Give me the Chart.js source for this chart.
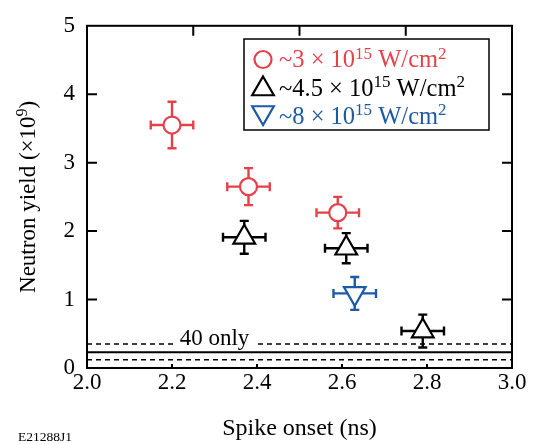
<!DOCTYPE html>
<html>
<head>
<meta charset="utf-8">
<script src="https://cdn.jsdelivr.net/npm/chart.js@4.4.0/dist/chart.umd.min.js"></script>
<style>
  html, body { margin: 0; padding: 0; background: #fff; }
  #wrap { width: 535px; height: 444px; }
</style>
</head>
<body>
<div id="wrap"><canvas id="yieldChart" width="535" height="444"></canvas></div>
<script>
// --- data ---
const onsetRed = [2.20, 2.38, 2.59];      // ~3e15 W/cm2
const yieldRed = [3.55, 2.65, 2.27];
const yErrRed = [0.34, 0.27, 0.23];

const onsetBlack = [2.37, 2.61, 2.79];    // ~4.5e15 W/cm2
const yieldBlack = [1.91, 1.75, 0.54];
const yErrBlack = [0.24, 0.22, 0.24];

const onsetBlue = [2.63];                 // ~8e15 W/cm2
const yieldBlue = [1.09];
const yErrBlue = [0.24];

const xErr = 0.05;                        // onset uncertainty, same for all

const onlyLevel = 0.23;                   // "40 only" yield
const onlyBand = [0.12, 0.35];            // dashed band around it

const intensities = ['~3', '~4.5', '~8'];
const xRange = [2.0, 3.0];
const yRange = [0, 5];

const FONT = '"Liberation Serif", "Times New Roman", serif';
const RED = '#e6414a', BLACK = '#000000', BLUE = '#1b5aa6';

function toPts(xs, ys) { return xs.map((x, i) => ({ x: x, y: ys[i] })); }
function flat(y) { return [{ x: xRange[0], y: y }, { x: xRange[1], y: y }]; }

// small marker painter (used for the legend)
function drawMarker(ctx, style, x, y, r, rot, color) {
    ctx.save();
    ctx.strokeStyle = color;
    ctx.fillStyle = '#fff';
    ctx.lineWidth = 2.2;
    ctx.beginPath();
    if (style === 'circle') {
        ctx.arc(x, y, r, 0, Math.PI * 2);
    } else {
        let a = rot * Math.PI / 180;
        for (let k = 0; k < 3; k++) {
            const px = x + Math.sin(a) * r, py = y - Math.cos(a) * r;
            k === 0 ? ctx.moveTo(px, py) : ctx.lineTo(px, py);
            a += Math.PI * 2 / 3;
        }
        ctx.closePath();
    }
    ctx.fill();
    ctx.stroke();
    ctx.restore();
}

const decorations = {
    id: 'decorations',
    beforeDatasetsDraw(chart) {
        // error bars with caps
        const ctx = chart.ctx, xs = chart.scales.x, ys = chart.scales.y;
        chart.data.datasets.forEach(ds => {
            if (!ds.errY) return;
            ctx.save();
            ctx.strokeStyle = ds.borderColor;
            ctx.lineWidth = 2.4;
            ds.data.forEach((p, i) => {
                const cx = xs.getPixelForValue(p.x), cy = ys.getPixelForValue(p.y);
                const x1 = xs.getPixelForValue(p.x - xErr), x2 = xs.getPixelForValue(p.x + xErr);
                const y1 = ys.getPixelForValue(p.y + ds.errY[i]), y2 = ys.getPixelForValue(p.y - ds.errY[i]);
                const c = 4.5;
                ctx.beginPath();
                ctx.moveTo(x1, cy); ctx.lineTo(x2, cy);
                ctx.moveTo(x1, cy - c); ctx.lineTo(x1, cy + c);
                ctx.moveTo(x2, cy - c); ctx.lineTo(x2, cy + c);
                ctx.moveTo(cx, y1); ctx.lineTo(cx, y2);
                ctx.moveTo(cx - c, y1); ctx.lineTo(cx + c, y1);
                ctx.moveTo(cx - c, y2); ctx.lineTo(cx + c, y2);
                ctx.stroke();
            });
            ctx.restore();
        });
    },
    afterDatasetsDraw(chart) {
        const ctx = chart.ctx, a = chart.chartArea;
        const xs = chart.scales.x, ys = chart.scales.y, xt = chart.scales.x2, yr = chart.scales.y2;
        ctx.save();

        // "40 only" label sitting on the upper dashed line
        ctx.font = `23px ${FONT}`;
        const lbl = '40 only';
        const lx = xs.getPixelForValue(2.3), ly = ys.getPixelForValue(0.33);
        const lw = ctx.measureText(lbl).width;
        ctx.fillStyle = '#fff';
        ctx.fillRect(lx - lw / 2 - 5, ly - 16, lw + 10, 20);
        ctx.fillStyle = BLACK;
        ctx.textAlign = 'center';
        ctx.textBaseline = 'alphabetic';
        ctx.fillText(lbl, lx, ly);

        // frame and inward ticks
        ctx.strokeStyle = BLACK;
        ctx.lineWidth = 2;
        ctx.strokeRect(a.left, a.top, a.right - a.left, a.bottom - a.top);
        ctx.beginPath();
        ys.ticks.forEach(t => {
            if (t.value <= yRange[0] || t.value >= yRange[1]) return;
            const p = ys.getPixelForValue(t.value);
            ctx.moveTo(a.left, p); ctx.lineTo(a.left + 10, p);
        });
        yr.ticks.forEach(t => {
            if (t.value <= yRange[0] || t.value >= yRange[1]) return;
            const p = yr.getPixelForValue(t.value);
            ctx.moveTo(a.right, p); ctx.lineTo(a.right - 10, p);
        });
        xs.ticks.forEach(t => {
            if (t.value <= xRange[0] + 1e-6 || t.value >= xRange[1] - 1e-6) return;
            const p = xs.getPixelForValue(t.value);
            ctx.moveTo(p, a.bottom); ctx.lineTo(p, a.bottom - 4);
        });
        xt.ticks.forEach(t => {
            if (t.value <= xRange[0] + 1e-6 || t.value >= xRange[1] - 1e-6) return;
            const p = xt.getPixelForValue(t.value);
            ctx.moveTo(p, a.top); ctx.lineTo(p, a.top + 10);
        });
        ctx.stroke();

        // legend box
        ctx.fillStyle = '#fff';
        ctx.fillRect(244, 39, 245, 91);
        ctx.lineWidth = 1.5;
        ctx.strokeRect(244, 39, 245, 91);
        const rows = [
            { style: 'circle', r: 8.5, rot: 0, color: RED, cy: 59.5, base: 67 },
            { style: 'triangle', r: 12.5, rot: 0, color: BLACK, cy: 89, base: 95.5 },
            { style: 'triangle', r: 12.5, rot: 180, color: BLUE, cy: 112.5, base: 123.5 }
        ];
        ctx.textAlign = 'left';
        rows.forEach((row, i) => {
            drawMarker(ctx, row.style, 263, row.cy, row.r, row.rot, row.color);
            let x = 279;
            ctx.fillStyle = row.color;
            const parts = [[intensities[i] + ' × 10', false], ['15', true], [' W/cm', false], ['2', true]];
            parts.forEach(([s, sup]) => {
                ctx.font = sup ? `17px ${FONT}` : `24.5px ${FONT}`;
                ctx.fillText(s, x, sup ? row.base - 8.5 : row.base);
                x += ctx.measureText(s).width;
            });
        });

        // y-axis title with superscript
        ctx.fillStyle = BLACK;
        const t1 = 'Neutron yield (×10', t2 = '9', t3 = ')';
        ctx.font = `23px ${FONT}`;
        const w1 = ctx.measureText(t1).width, w3 = ctx.measureText(t3).width;
        ctx.font = `16px ${FONT}`;
        const w2 = ctx.measureText(t2).width;
        const total = w1 + w2 + w3;
        ctx.translate(35, (a.top + a.bottom) / 2);
        ctx.rotate(-Math.PI / 2);
        let tx = -total / 2;
        ctx.font = `23px ${FONT}`;
        ctx.fillText(t1, tx, 0); tx += w1;
        ctx.font = `16px ${FONT}`;
        ctx.fillText(t2, tx, -8); tx += w2;
        ctx.font = `23px ${FONT}`;
        ctx.fillText(t3, tx, 0);
        ctx.setTransform(1, 0, 0, 1, 0, 0);

        // figure code
        ctx.font = `13.5px ${FONT}`;
        ctx.fillText('E21288J1', 18, 441);
        ctx.restore();
    }
};

Chart.defaults.color = BLACK;
Chart.defaults.font.family = FONT;

const ctx = document.getElementById('yieldChart').getContext('2d');
const myChart = new Chart(ctx, {
    type: 'scatter',
    data: {
        datasets: [
            {
                type: 'line', data: flat(onlyLevel), borderColor: BLACK, borderWidth: 2.2,
                pointRadius: 0, fill: false
            },
            {
                type: 'line', data: flat(onlyBand[1]), borderColor: BLACK, borderWidth: 1.5,
                borderDash: [5, 4], pointRadius: 0, fill: false
            },
            {
                type: 'line', data: flat(onlyBand[0]), borderColor: BLACK, borderWidth: 1.5,
                borderDash: [5, 4], pointRadius: 0, fill: false
            },
            {
                label: '~3', data: toPts(onsetRed, yieldRed), errY: yErrRed,
                pointStyle: 'circle', pointRadius: 8.5, borderWidth: 2.2,
                borderColor: RED, backgroundColor: '#fff'
            },
            {
                label: '~4.5', data: toPts(onsetBlack, yieldBlack), errY: yErrBlack,
                pointStyle: 'triangle', pointRadius: 12.5, borderWidth: 2.2,
                borderColor: BLACK, backgroundColor: '#fff'
            },
            {
                label: '~8', data: toPts(onsetBlue, yieldBlue), errY: yErrBlue,
                pointStyle: 'triangle', rotation: 180, pointRadius: 12.5, borderWidth: 2.2,
                borderColor: BLUE, backgroundColor: '#fff'
            }
        ]
    },
    options: {
        responsive: false,
        animation: false,
        events: [],
        layout: { padding: { top: 18, right: 23, left: 0, bottom: 0 } },
        plugins: { legend: { display: false }, tooltip: { enabled: false } },
        scales: {
            x: {
                type: 'linear', position: 'bottom', min: xRange[0], max: xRange[1],
                ticks: { stepSize: 0.2, padding: 1, font: { size: 23 }, maxRotation: 0,
                         callback: v => v.toFixed(1) },
                grid: { display: false, drawTicks: false },
                border: { display: false },
                title: { display: true, text: 'Spike onset (ns)', font: { size: 24 },
                         padding: { top: 0, bottom: 1 } },
                afterFit: s => { s.height = 76; }
            },
            y: {
                type: 'linear', position: 'left', min: yRange[0], max: yRange[1],
                ticks: { stepSize: 1, padding: 12, font: { size: 23 } },
                grid: { display: false, drawTicks: false },
                border: { display: false },
                afterFit: s => { s.width = 87; }
            },
            x2: {
                type: 'linear', position: 'top', min: xRange[0], max: xRange[1],
                ticks: { stepSize: 0.25, display: false },
                grid: { display: false, drawTicks: false },
                border: { display: false },
                afterFit: s => { s.height = 0; }
            },
            y2: {
                type: 'linear', position: 'right', min: yRange[0], max: yRange[1],
                ticks: { stepSize: 1, display: false },
                grid: { display: false, drawTicks: false },
                border: { display: false },
                afterFit: s => { s.width = 0; }
            }
        }
    },
    plugins: [decorations]
});
</script>
</body>
</html>
